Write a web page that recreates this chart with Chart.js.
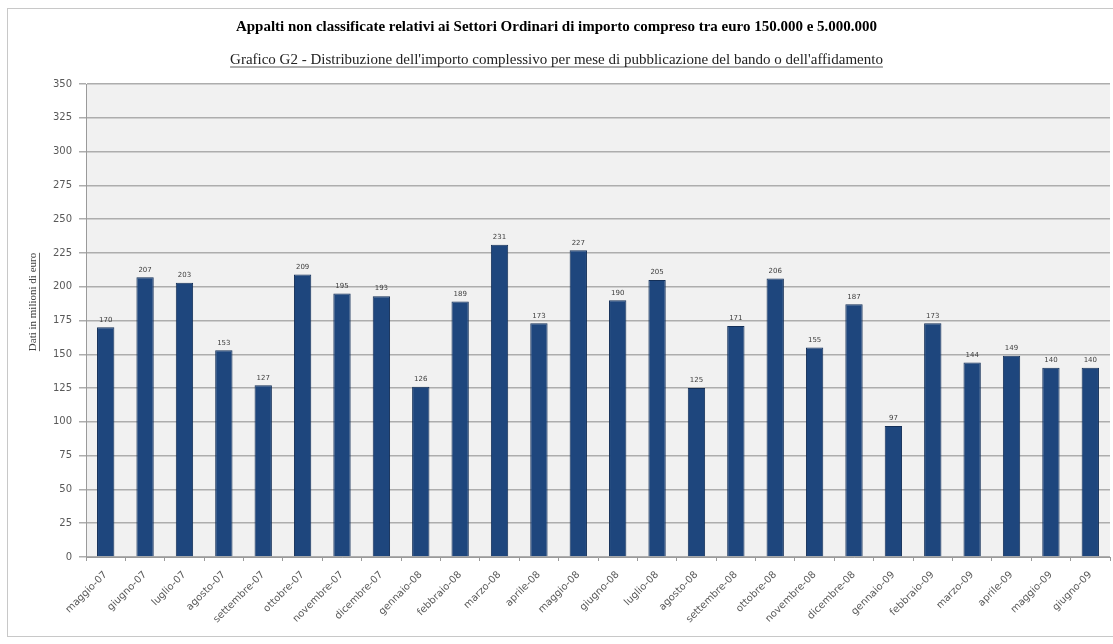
<!DOCTYPE html>
<html>
<head>
<meta charset="utf-8">
<script src="https://cdn.jsdelivr.net/npm/chart.js@4.4.1/dist/chart.umd.min.js"></script>
<style>
    html, body { margin: 0; padding: 0; background: #ffffff; }
    canvas { display: block; }
</style>
</head>
<body>
<canvas id="chartG2" width="1113" height="644"></canvas>
<script>
// Data
const MONTHS = [
    'maggio-07', 'giugno-07', 'luglio-07', 'agosto-07', 'settembre-07', 'ottobre-07',
    'novembre-07', 'dicembre-07', 'gennaio-08', 'febbraio-08', 'marzo-08', 'aprile-08',
    'maggio-08', 'giugno-08', 'luglio-08', 'agosto-08', 'settembre-08', 'ottobre-08',
    'novembre-08', 'dicembre-08', 'gennaio-09', 'febbraio-09', 'marzo-09', 'aprile-09',
    'maggio-09', 'giugno-09'
];
const AMOUNTS = [
    170, 207, 203, 153, 127, 209, 195, 193, 126, 189, 231, 173, 227,
    190, 205, 125, 171, 206, 155, 187, 97, 173, 144, 149, 140, 140
];
const Y_MIN = 0;
const Y_MAX = 350;
const Y_STEP = 25;

const TITLE = 'Appalti non classificate relativi ai Settori Ordinari di importo compreso tra euro 150.000 e 5.000.000';
const SUBTITLE = "Grafico G2 - Distribuzione dell'importo complessivo per mese di pubblicazione del bando o dell'affidamento";
const Y_TITLE = 'Dati in milioni di euro';

const SERIF = '"Liberation Serif", "Times New Roman", serif';
const SANS = '"DejaVu Sans", "Liberation Sans", sans-serif';

// Frame, plot background, underlined texts
const decorPlugin = {
    id: 'decor',
    beforeDraw(chart) {
        const ctx = chart.ctx;
        const a = chart.chartArea;
        ctx.save();
        ctx.fillStyle = '#ffffff';
        ctx.fillRect(0, 0, chart.width, chart.height);
        ctx.strokeStyle = '#c8c8c8';
        ctx.lineWidth = 1;
        ctx.strokeRect(7.5, 8.5, chart.width + 10, 628);
        ctx.fillStyle = '#f1f1f1';
        ctx.fillRect(a.left, a.top, a.right - a.left, a.bottom - a.top);
        ctx.restore();
    },
    afterDraw(chart) {
        const ctx = chart.ctx;
        ctx.save();
        // underline for the subtitle
        const sub = chart.boxes.find(b => b.options && b.options.text === SUBTITLE);
        if (sub) {
            ctx.font = '15px ' + SERIF;
            const w = ctx.measureText(SUBTITLE).width;
            const cx = sub.left + sub.width / 2;
            const y = sub.top + 4 + 18 / 2 + 7;
            ctx.strokeStyle = '#333333';
            ctx.lineWidth = 0.8;
            ctx.beginPath();
            ctx.moveTo(cx - w / 2, y);
            ctx.lineTo(cx + w / 2, y);
            ctx.stroke();
        }
        // y axis title, rotated and underlined
        ctx.translate(33, 302);
        ctx.rotate(-Math.PI / 2);
        ctx.font = '11px ' + SERIF;
        ctx.fillStyle = '#404040';
        ctx.textAlign = 'center';
        ctx.textBaseline = 'middle';
        ctx.fillText(Y_TITLE, 0, 0);
        const tw = ctx.measureText(Y_TITLE).width;
        ctx.strokeStyle = '#404040';
        ctx.lineWidth = 0.8;
        ctx.beginPath();
        ctx.moveTo(-tw / 2, 6.5);
        ctx.lineTo(tw / 2, 6.5);
        ctx.stroke();
        ctx.restore();
    }
};

// Value labels above the bars
const valueLabelPlugin = {
    id: 'valueLabels',
    afterDatasetsDraw(chart) {
        const ctx = chart.ctx;
        const meta = chart.getDatasetMeta(0);
        ctx.save();
        ctx.font = '7px ' + SANS;
        ctx.fillStyle = '#404040';
        ctx.textAlign = 'center';
        ctx.textBaseline = 'bottom';
        meta.data.forEach((bar, i) => {
            ctx.fillText(String(AMOUNTS[i]), bar.x, bar.y - 4);
        });
        ctx.restore();
    }
};

function createChart() {
    const ctx = document.getElementById('chartG2').getContext('2d');
    new Chart(ctx, {
        type: 'bar',
        data: {
            labels: MONTHS,
            datasets: [{
                data: AMOUNTS,
                backgroundColor: '#1e467d',
                borderColor: '#132f58',
                borderWidth: 1,
                categoryPercentage: 1,
                barPercentage: 0.44
            }]
        },
        options: {
            responsive: false,
            animation: false,
            layout: {
                padding: { left: 3, right: 3, top: 18, bottom: 9 }
            },
            plugins: {
                legend: { display: false },
                tooltip: { enabled: false },
                title: {
                    display: true,
                    text: TITLE,
                    color: '#000000',
                    font: { family: SERIF, size: 15, weight: 'bold', lineHeight: 1.2 },
                    padding: { top: 0, bottom: 11 }
                },
                subtitle: {
                    display: true,
                    text: SUBTITLE,
                    color: '#222222',
                    font: { family: SERIF, size: 15, lineHeight: 1.2 },
                    padding: { top: 4, bottom: 15 }
                }
            },
            scales: {
                x: {
                    afterFit: scale => { scale.height = 78; },
                    grid: {
                        offset: true,
                        drawOnChartArea: false,
                        tickLength: 4,
                        color: '#9a9a9a'
                    },
                    border: { color: '#9a9a9a', width: 1 },
                    ticks: {
                        autoSkip: false,
                        maxRotation: 45,
                        minRotation: 45,
                        padding: 8,
                        color: '#595959',
                        font: { family: SANS, size: 10 }
                    }
                },
                y: {
                    min: Y_MIN,
                    max: Y_MAX,
                    afterFit: scale => { scale.width = 83; },
                    grid: {
                        color: '#adadad',
                        lineWidth: 1.5,
                        tickLength: 7
                    },
                    border: { color: '#9a9a9a', width: 1 },
                    ticks: {
                        stepSize: Y_STEP,
                        padding: 7,
                        color: '#595959',
                        font: { family: SANS, size: 10 }
                    }
                }
            }
        },
        plugins: [decorPlugin, valueLabelPlugin]
    });
}

document.addEventListener('DOMContentLoaded', createChart);
</script>
</body>
</html>
